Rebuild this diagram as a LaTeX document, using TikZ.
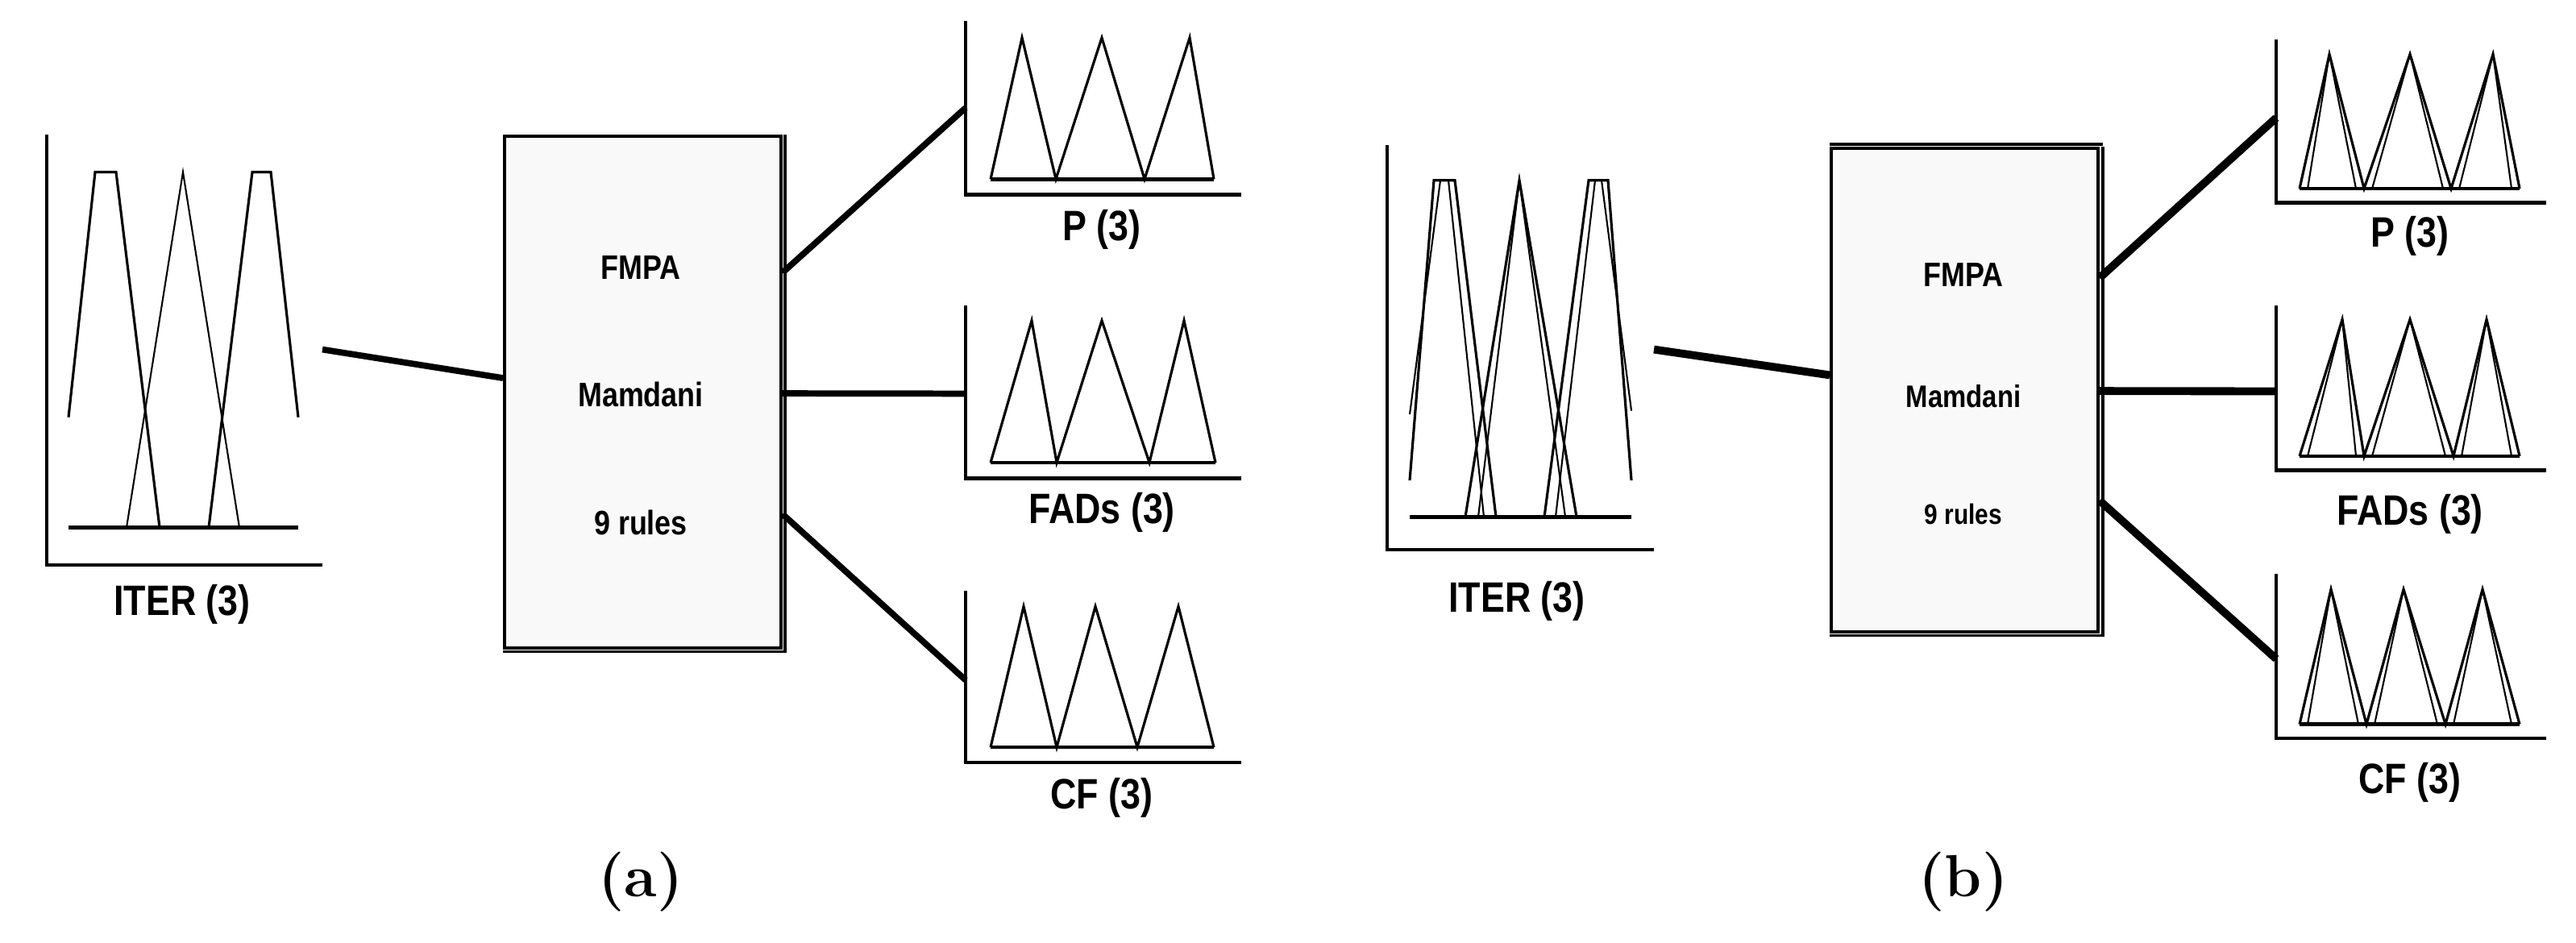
\documentclass[tikz,border=0pt]{standalone}
\usepackage{fontspec}
\setmainfont{Liberation Sans}
\newfontfamily\capfont{Latin Modern Roman}
\usetikzlibrary{calc}
\usepackage{graphicx}
% three triangles: bottoms #1..#4, peaks #5..#7, base y #8, peak y #9
\newcommand{\tris}[9]{%
  \draw[mf] (#1,#8) -- (#5,#9) -- (#2,#8) -- (#6,#9) -- (#3,#8) -- (#7,#9) -- (#4,#8);
  \draw[axis] (#1,#8) -- (#4,#8);}
% same, with a second inner line on every triangle
\newcommand{\trisb}[9]{%
  \tris{#1}{#2}{#3}{#4}{#5}{#6}{#7}{#8}{#9}
  \draw[mfthin] (#1+10,#8) -- (#5,#9) -- (#2-10,#8);
  \draw[mfthin] (#2+10,#8) -- (#6,#9) -- (#3-10,#8);
  \draw[mfthin] (#3+10,#8) -- (#7,#9) -- (#4-10,#8);}
\newcommand{\nar}[1]{\scalebox{0.85}[1]{#1}}
\begin{document}
\begin{tikzpicture}[
  x=0.1mm, y=-0.073125mm,
  axis/.style={line width=1.3pt},
  mf/.style={line width=0.9pt, line join=miter},
  mfthin/.style={line width=0.6pt},
  link/.style={line width=2.2pt},
  fis/.style={draw, line width=1.1pt, fill=gray!5, inner sep=0pt},
  lab/.style={font=\fontsize{15}{18}\selectfont\bfseries},
  boxtxt/.style={font=\fontsize{12}{14}\selectfont\bfseries},
  subcap/.style={font=\fontsize{21}{24}\selectfont\capfont\bfseries},
]
\useasboundingbox (0,0) rectangle (3196,1600);

% ---- (a) ----
\draw[axis] (58,228) |- (400,959);
\draw[axis] (85,895) -- (370,895);
\draw[mf] (85,708) -- (118,292) -- (144,292) -- (198,895);
\draw[mfthin] (157,895) -- (227,292) -- (297,895);
\draw[mf] (259,895) -- (313,292) -- (336,292) -- (370,708);
\node[lab] (iterA) at (226,1026) {\nar{ITER (3)}};

\node[fis, minimum width=3.43cm, minimum height=6.355cm] (fmpaA) at (797.5,665.5) {};
\draw[line width=1.1pt] ($(fmpaA.south west)+(0,3)$) -- ($(fmpaA.south east)+(3,3)$) -- ($(fmpaA.north east)+(3,0)$);
\node[boxtxt] (fA1) at (795,454) {\nar{FMPA}};
\node[boxtxt] (fA2) at (795,669) {\nar{Mamdani}};
\node[boxtxt] (fA3) at (795,887) {\nar{9 rules}};

\coordinate (inA) at (400,593);
\coordinate (pA) at (1198,183);
\coordinate (dA) at (1198,668);
\coordinate (cA) at (1198,1154);
\draw[link] (inA) -- ($(fmpaA.west)+(0,-24)$);
\draw[link] ($(fmpaA.east)+(0,-203)$) -- (pA);
\draw[link] ($(fmpaA.east)+(0,2)$) -- (dA);
\draw[link] ($(fmpaA.east)+(0,207)$) -- (cA);

\draw[axis] (1198,36) |- (1540,330);
\tris{1229}{1310}{1420}{1506}{1268}{1367}{1476}{304}{64}
\node[lab] (pAl) at (1367,390) {\nar{P (3)}};
\draw[axis] (1198,518) |- (1540,812);
\tris{1229}{1311}{1426}{1508}{1280}{1367}{1469}{785}{544}
\node[lab] (fAl) at (1367,870) {\nar{FADs (3)}};
\draw[axis] (1198,1003) |- (1540,1294);
\tris{1229}{1311}{1411}{1506}{1270}{1359}{1462}{1268}{1029}
\node[lab] (cAl) at (1367,1354) {\nar{CF (3)}};

\node[subcap] (capA) at (795,1497) {(a)};

% ---- (b) ----
\draw[axis] (1721,246) |- (2052,933);
\draw[axis] (1749,877) -- (2024,877);
\draw[mf] (1749,815) -- (1779,306) -- (1805,306) -- (1856,877);
\draw[mfthin] (1749,703) -- (1787,306) -- (1797,306) -- (1841,877);
\draw[mf] (1818,877) -- (1885,306) -- (1956,877);
\draw[mfthin] (1834,877) -- (1885,306) -- (1942,877);
\draw[mf] (1916,877) -- (1971,306) -- (1995,306) -- (2024,815);
\draw[mfthin] (1930,877) -- (1979,306) -- (1987,306) -- (2024,697);
\node[lab] (iterB) at (1882,1020) {\nar{ITER (3)}};

\node[fis, minimum width=3.31cm, minimum height=6.0cm] (fmpaB) at (2437.5,661.5) {};
\draw[line width=1.1pt] ($(fmpaB.south west)+(0,4)$) -- ($(fmpaB.south east)+(4,4)$) -- ($(fmpaB.north east)+(4,0)$);
\draw[line width=1.1pt] ($(fmpaB.north west)+(0,-4)$) -- ($(fmpaB.north east)+(4,-4)$);
\node[boxtxt] (fB1) at (2436,467) {\nar{FMPA}};
\node[boxtxt, font=\fontsize{11}{13}\selectfont\bfseries] (fB2) at (2436,672) {\nar{Mamdani}};
\node[boxtxt, font=\fontsize{10}{12}\selectfont\bfseries] (fB3) at (2436,872) {\nar{9 rules}};

\coordinate (inB) at (2052,593);
\coordinate (pB) at (2824,200);
\coordinate (dB) at (2824,664);
\coordinate (cB) at (2824,1118);
\draw[link, line width=2.8pt] (inB) -- ($(fmpaB.west)+(0,-25)$);
\draw[link, line width=2.8pt] ($(fmpaB.east)+(0,-190)$) -- (pB);
\draw[link, line width=2.8pt] ($(fmpaB.east)+(0,2)$) -- (dB);
\draw[link, line width=2.8pt] ($(fmpaB.east)+(0,188)$) -- (cB);

\draw[axis] (2824,67) |- (3159,344);
\trisb{2853}{2933}{3041}{3126}{2890}{2990}{3093}{320}{92}
\node[lab] (pBl) at (2990,400) {\nar{P (3)}};
\draw[axis] (2824,518) |- (3159,798);
\trisb{2853}{2933}{3044}{3126}{2906}{2990}{3085}{774}{542}
\node[lab] (fBl) at (2990,872) {\nar{FADs (3)}};
\draw[axis] (2824,974) |- (3159,1253);
\trisb{2853}{2936}{3034}{3126}{2892}{2982}{3080}{1229}{1000}
\node[lab] (cBl) at (2990,1328) {\nar{CF (3)}};

\node[subcap] (capB) at (2436,1497) {(b)};
\end{tikzpicture}
\end{document}
